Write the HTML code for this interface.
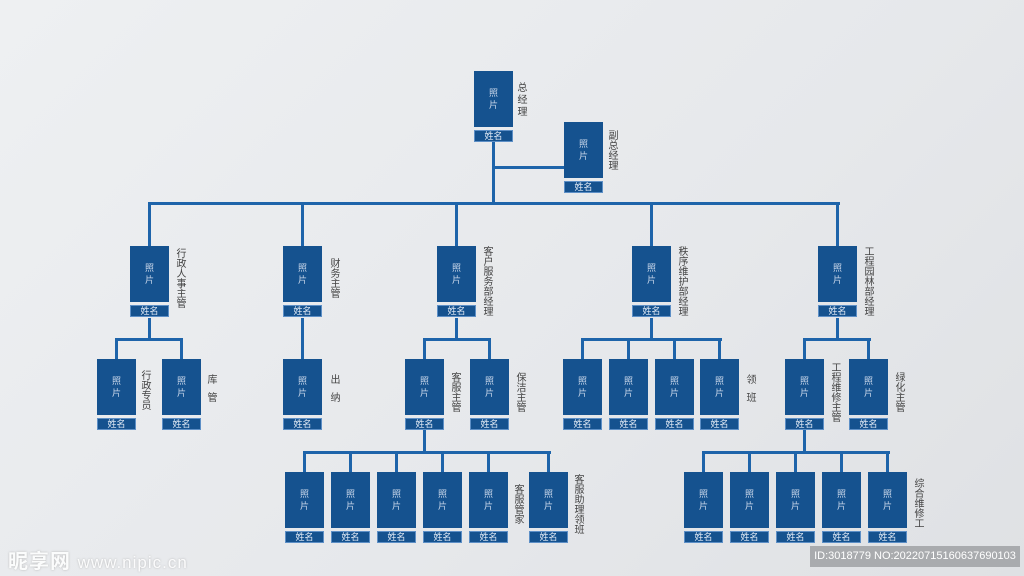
<!DOCTYPE html>
<html><head><meta charset="utf-8"><style>
body{margin:0;width:1024px;height:576px;overflow:hidden;position:relative;background:linear-gradient(135deg,#eef0f2 0%,#e6e8eb 60%,#dfe1e4 100%);font-family:"Liberation Sans","Noto Sans CJK SC",sans-serif}
.b{position:absolute;width:39px}
.p{height:56px;background:#15528f;color:#c9d7ea;font-size:9px;line-height:12px;display:flex;align-items:center;justify-content:center;text-align:center}
.n{margin-top:3px;height:12px;background:#15528f;color:#e6eef8;font-size:9px;line-height:12px;text-align:center;box-shadow:0 0 0 1px #5d8fc6 inset}
.l{position:absolute;background:#1e64aa}
.t{position:absolute;writing-mode:vertical-rl;font-size:10px;color:#444;line-height:11px;letter-spacing:0}
</style></head><body>
<!-- lines -->
<div class="l" style="left:492px;top:141px;width:3px;height:64px"></div>
<div class="l" style="left:492px;top:166px;width:72px;height:3px"></div>
<div class="l" style="left:148px;top:202px;width:692px;height:3px"></div>
<div class="l" style="left:148px;top:202px;width:3px;height:44px"></div>
<div class="l" style="left:301px;top:202px;width:3px;height:44px"></div>
<div class="l" style="left:455px;top:202px;width:3px;height:44px"></div>
<div class="l" style="left:650px;top:202px;width:3px;height:44px"></div>
<div class="l" style="left:836px;top:202px;width:3px;height:44px"></div>
<!-- L3 connectors -->
<div class="l" style="left:148px;top:318px;width:3px;height:22px"></div>
<div class="l" style="left:115px;top:338px;width:68px;height:3px"></div>
<div class="l" style="left:115px;top:338px;width:3px;height:21px"></div>
<div class="l" style="left:180px;top:338px;width:3px;height:21px"></div>
<div class="l" style="left:301px;top:318px;width:3px;height:41px"></div>
<div class="l" style="left:455px;top:318px;width:3px;height:22px"></div>
<div class="l" style="left:423px;top:338px;width:68px;height:3px"></div>
<div class="l" style="left:423px;top:338px;width:3px;height:21px"></div>
<div class="l" style="left:488px;top:338px;width:3px;height:21px"></div>
<div class="l" style="left:650px;top:318px;width:3px;height:22px"></div>
<div class="l" style="left:581px;top:338px;width:141px;height:3px"></div>
<div class="l" style="left:581px;top:338px;width:3px;height:21px"></div>
<div class="l" style="left:627px;top:338px;width:3px;height:21px"></div>
<div class="l" style="left:673px;top:338px;width:3px;height:21px"></div>
<div class="l" style="left:718px;top:338px;width:3px;height:21px"></div>
<div class="l" style="left:836px;top:318px;width:3px;height:22px"></div>
<div class="l" style="left:803px;top:338px;width:68px;height:3px"></div>
<div class="l" style="left:803px;top:338px;width:3px;height:21px"></div>
<div class="l" style="left:867px;top:338px;width:3px;height:21px"></div>
<!-- L4 connectors -->
<div class="l" style="left:423px;top:430px;width:3px;height:23px"></div>
<div class="l" style="left:303px;top:451px;width:248px;height:3px"></div>
<div class="l" style="left:303px;top:451px;width:3px;height:21px"></div>
<div class="l" style="left:349px;top:451px;width:3px;height:21px"></div>
<div class="l" style="left:395px;top:451px;width:3px;height:21px"></div>
<div class="l" style="left:441px;top:451px;width:3px;height:21px"></div>
<div class="l" style="left:487px;top:451px;width:3px;height:21px"></div>
<div class="l" style="left:547px;top:451px;width:3px;height:21px"></div>
<div class="l" style="left:803px;top:430px;width:3px;height:23px"></div>
<div class="l" style="left:702px;top:451px;width:188px;height:3px"></div>
<div class="l" style="left:702px;top:451px;width:3px;height:21px"></div>
<div class="l" style="left:748px;top:451px;width:3px;height:21px"></div>
<div class="l" style="left:794px;top:451px;width:3px;height:21px"></div>
<div class="l" style="left:840px;top:451px;width:3px;height:21px"></div>
<div class="l" style="left:886px;top:451px;width:3px;height:21px"></div>

<!-- boxes -->
<div class="b" style="left:474px;top:71px"><div class="p">照<br>片</div><div class="n">姓名</div></div>
<div class="b" style="left:564px;top:122px"><div class="p">照<br>片</div><div class="n">姓名</div></div>

<div class="b" style="left:130px;top:246px"><div class="p">照<br>片</div><div class="n">姓名</div></div>
<div class="b" style="left:283px;top:246px"><div class="p">照<br>片</div><div class="n">姓名</div></div>
<div class="b" style="left:437px;top:246px"><div class="p">照<br>片</div><div class="n">姓名</div></div>
<div class="b" style="left:632px;top:246px"><div class="p">照<br>片</div><div class="n">姓名</div></div>
<div class="b" style="left:818px;top:246px"><div class="p">照<br>片</div><div class="n">姓名</div></div>

<div class="b" style="left:97px;top:359px"><div class="p">照<br>片</div><div class="n">姓名</div></div>
<div class="b" style="left:162px;top:359px"><div class="p">照<br>片</div><div class="n">姓名</div></div>
<div class="b" style="left:283px;top:359px"><div class="p">照<br>片</div><div class="n">姓名</div></div>
<div class="b" style="left:405px;top:359px"><div class="p">照<br>片</div><div class="n">姓名</div></div>
<div class="b" style="left:470px;top:359px"><div class="p">照<br>片</div><div class="n">姓名</div></div>
<div class="b" style="left:563px;top:359px"><div class="p">照<br>片</div><div class="n">姓名</div></div>
<div class="b" style="left:609px;top:359px"><div class="p">照<br>片</div><div class="n">姓名</div></div>
<div class="b" style="left:655px;top:359px"><div class="p">照<br>片</div><div class="n">姓名</div></div>
<div class="b" style="left:700px;top:359px"><div class="p">照<br>片</div><div class="n">姓名</div></div>
<div class="b" style="left:785px;top:359px"><div class="p">照<br>片</div><div class="n">姓名</div></div>
<div class="b" style="left:849px;top:359px"><div class="p">照<br>片</div><div class="n">姓名</div></div>

<div class="b" style="left:285px;top:472px"><div class="p">照<br>片</div><div class="n">姓名</div></div>
<div class="b" style="left:331px;top:472px"><div class="p">照<br>片</div><div class="n">姓名</div></div>
<div class="b" style="left:377px;top:472px"><div class="p">照<br>片</div><div class="n">姓名</div></div>
<div class="b" style="left:423px;top:472px"><div class="p">照<br>片</div><div class="n">姓名</div></div>
<div class="b" style="left:469px;top:472px"><div class="p">照<br>片</div><div class="n">姓名</div></div>
<div class="b" style="left:529px;top:472px"><div class="p">照<br>片</div><div class="n">姓名</div></div>
<div class="b" style="left:684px;top:472px"><div class="p">照<br>片</div><div class="n">姓名</div></div>
<div class="b" style="left:730px;top:472px"><div class="p">照<br>片</div><div class="n">姓名</div></div>
<div class="b" style="left:776px;top:472px"><div class="p">照<br>片</div><div class="n">姓名</div></div>
<div class="b" style="left:822px;top:472px"><div class="p">照<br>片</div><div class="n">姓名</div></div>
<div class="b" style="left:868px;top:472px"><div class="p">照<br>片</div><div class="n">姓名</div></div>

<!-- labels -->
<div class="t" style="left:515px;top:82px;line-height:11px;letter-spacing:2px">总经理</div>
<div class="t" style="left:606px;top:130px">副总经理</div>
<div class="t" style="left:174px;top:248px">行政人事主管</div>
<div class="t" style="left:328px;top:258px">财务主管</div>
<div class="t" style="left:481px;top:246px">客户服务部经理</div>
<div class="t" style="left:676px;top:246px">秩序维护部经理</div>
<div class="t" style="left:862px;top:246px">工程园林部经理</div>
<div class="t" style="left:139px;top:370px">行政专员</div>
<div class="t" style="left:205px;top:374px;letter-spacing:8px">库管</div>
<div class="t" style="left:328px;top:374px;letter-spacing:8px">出纳</div>
<div class="t" style="left:449px;top:372px">客服主管</div>
<div class="t" style="left:514px;top:372px">保洁主管</div>
<div class="t" style="left:744px;top:374px;letter-spacing:8px">领班</div>
<div class="t" style="left:829px;top:362px">工程维修主管</div>
<div class="t" style="left:893px;top:372px">绿化主管</div>
<div class="t" style="left:512px;top:484px">客服管家</div>
<div class="t" style="left:572px;top:474px">客服助理领班</div>
<div class="t" style="left:912px;top:478px">综合维修工</div>

<!-- watermark -->
<div style="position:absolute;left:8px;top:545px;font-size:20px;color:#fff;opacity:.85;font-weight:bold;letter-spacing:1px;text-shadow:0 0 2px #aaa">昵享网 <span style="font-size:17px;font-weight:normal">www.nipic.cn</span></div>
<div style="position:absolute;left:810px;top:546px;width:210px;height:21px;background:#a9abae;color:#fff;font-size:11px;line-height:21px;text-align:center">ID:3018779 NO:20220715160637690103</div>
</body></html>
